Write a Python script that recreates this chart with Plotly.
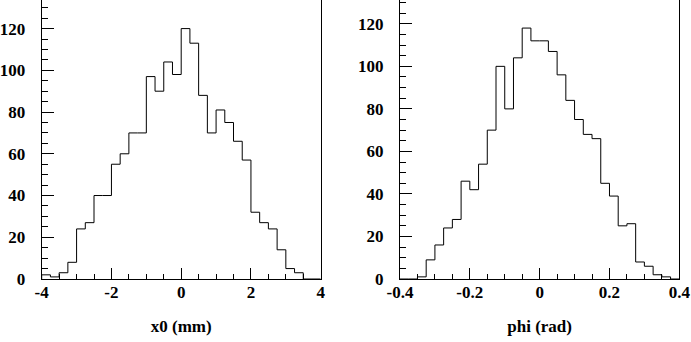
import numpy as np
import plotly.graph_objects as go

# Histogram 1: x0 (mm), 32 bins from -4 to 4
x0_range = [-4.0, 4.0]
x0_counts = [2, 1, 3, 8, 24, 27, 40, 40, 55, 60, 70, 70, 97, 90, 104, 98,
             120, 113, 88, 70, 81, 75, 66, 57, 32, 27, 24, 14, 5, 3, 0, 0]
x0_tickvals = [-4, -2, 0, 2, 4]
x0_ticktext = ["-4", "-2", "0", "2", "4"]

# Histogram 2: phi (rad), 32 bins from -0.4 to 0.4
phi_range = [-0.4, 0.4]
phi_counts = [0, 0, 1, 9, 16, 24, 28, 46, 42, 54, 70, 100, 80, 104, 118, 112,
              112, 107, 96, 84, 75, 68, 66, 45, 39, 25, 26, 8, 6, 2, 1, 0]
phi_tickvals = [-0.4, -0.2, 0, 0.2, 0.4]
phi_ticktext = ["-0.4", "-0.2", "0", "0.2", "0.4"]

x_titles = ["x0 (mm)", "phi (rad)"]
y_ranges = [[0, 133.7], [0, 131.2]]


def step_xy(rng, counts):
    edges = np.linspace(rng[0], rng[1], len(counts) + 1)
    xs = [edges[0]] + list(edges[:-1]) + [edges[-1], edges[-1]]
    ys = [0] + list(counts) + [counts[-1], 0]
    return xs, ys


fig = go.Figure()
for i, (rng, counts) in enumerate([(x0_range, x0_counts), (phi_range, phi_counts)]):
    xs, ys = step_xy(rng, counts)
    fig.add_trace(go.Scatter(
        x=xs, y=ys, mode="lines", line=dict(shape="hv", color="black", width=1),
        xaxis="x" if i == 0 else "x2", yaxis="y" if i == 0 else "y2",
        showlegend=False, hoverinfo="skip"))

font = dict(family="Liberation Serif, Times New Roman, serif", size=17, color="black", weight="bold")

common_x = dict(
    showgrid=False, zeroline=False, showline=True, linecolor="black", linewidth=1,
    mirror=True, ticks="inside", ticklen=11, tickwidth=1, tickcolor="black",
    tickfont=font, ticklabelstandoff=-2, automargin=False, tickmode="array",
)
common_y = dict(
    showgrid=False, zeroline=False, showline=True, linecolor="black", linewidth=1,
    mirror=True, ticks="inside", ticklen=12, tickwidth=1, tickcolor="black",
    tickfont=font, dtick=20, tick0=0, automargin=False, ticklabelstandoff=12,
    minor=dict(dtick=5, tick0=0, ticks="inside", ticklen=6, tickcolor="black", tickwidth=1),
)

fig.update_layout(
    width=691, height=342,
    margin=dict(l=0, r=0, t=0, b=63),
    paper_bgcolor="white", plot_bgcolor="white",
    xaxis=dict(domain=[41.7 / 691, 320.7 / 691], range=x0_range,
               tickvals=x0_tickvals, ticktext=x0_ticktext,
               minor=dict(dtick=0.5, tick0=0, ticks="inside", ticklen=5, tickcolor="black", tickwidth=1),
               title=dict(text=x_titles[0], font=font, standoff=18), anchor="y", **common_x),
    yaxis=dict(range=y_ranges[0], anchor="x", **common_y),
    xaxis2=dict(domain=[400 / 691, 679.3 / 691], range=phi_range,
                tickvals=phi_tickvals, ticktext=phi_ticktext,
                minor=dict(dtick=0.05, tick0=0, ticks="inside", ticklen=5, tickcolor="black", tickwidth=1),
                title=dict(text=x_titles[1], font=font, standoff=18), anchor="y2", **common_x),
    yaxis2=dict(range=y_ranges[1], anchor="x2", **common_y),
)

fig.write_html("out.html")
